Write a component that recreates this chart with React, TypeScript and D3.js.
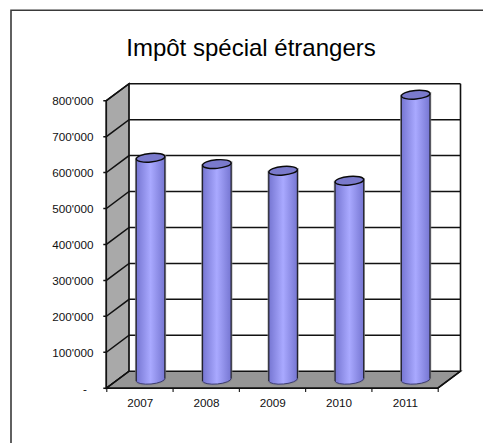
import React from "react";
import * as d3 from "d3";

const title = "Impôt spécial étrangers";
const years = ["2007", "2008", "2009", "2010", "2011"];
const values = [617700, 600000, 581500, 553700, 793000];
const yTicks = [0, 100000, 200000, 300000, 400000, 500000, 600000, 700000, 800000];
const yTickLabels = ["-", "100'000", "200'000", "300'000", "400'000", "500'000", "600'000", "700'000", "800'000"];

const W = 483, H = 443;
const frontLeft = 106.3, frontRight = 437.7;
const frontBottom = 388.2, frontTop = 100.7;
const dx = 22.8, dy = -17;
const barWidth = 28.6;
const ink = "#111";
const font = "'Liberation Sans', Arial, sans-serif";

export default function App() {
  const x = d3.scaleBand<string>().domain(years).range([frontLeft, frontRight]);
  const y = d3.scaleLinear().domain([0, 800000]).range([frontBottom, frontTop]);
  const line = d3.line();
  const backX0 = frontLeft + dx, backX1 = frontRight + dx;
  const floorPts: [number, number][] = [[frontLeft, frontBottom], [frontRight, frontBottom], [backX1, frontBottom + dy], [backX0, frontBottom + dy]];
  const sidePts: [number, number][] = [[frontLeft, frontBottom], [backX0, frontBottom + dy], [backX0, frontTop + dy], [frontLeft, frontTop]];
  const boundaries = [...years.map((c) => x(c)!), frontRight];
  return (
    <svg width={W} height={H} style={{ position: "absolute", left: 0, top: 0 }}>
      <defs>
        <linearGradient id="cyl" x1="0" x2="1" y1="0" y2="0">
          <stop offset="0" stopColor="#7676d2" />
          <stop offset="0.5" stopColor="#a9a9ff" />
          <stop offset="1" stopColor="#7676d2" />
        </linearGradient>
      </defs>
      <rect width={W} height={H} fill="#fff" />
      <path d="M11,443V10.2H483" fill="none" stroke="#3a3a3a" strokeWidth={1.6} />
      <text x={251} y={56} textAnchor="middle" fontFamily={font} fontSize={24} fill="#000">{title}</text>

      <path d={line(sidePts)! + "Z"} fill="#a9a9a9" stroke={ink} strokeWidth={1.4} />
      <path d={line(floorPts)! + "Z"} fill="#969696" stroke={ink} strokeWidth={1.4} />
      <rect x={backX0} y={frontTop + dy} width={backX1 - backX0} height={frontBottom - frontTop} fill="#fff" />
      {yTicks.map((t) => (
        <path key={t} fill="none" stroke={ink} strokeWidth={1.5}
          d={line([[frontLeft - 3, y(t)], [frontLeft, y(t)], [backX0, y(t) + dy], [backX1, y(t) + dy]])!} />
      ))}
      <path d={line([[backX0, frontTop + dy], [backX0, frontBottom + dy]])!} stroke={ink} strokeWidth={1.5} />
      <path d={line([[backX1, frontTop + dy], [backX1, frontBottom + dy], [frontRight, frontBottom], [frontLeft, frontBottom], [frontLeft, frontTop]])!} fill="none" stroke={ink} strokeWidth={1.6} />
      {boundaries.map((b, i) => (
        <path key={i} d={line([[b + 0.5, frontBottom], [b + 0.5, frontBottom + 3.8]])!} stroke={ink} strokeWidth={1.1} />
      ))}
      {yTicks.map((t, i) => (
        <text key={t} x={i === 0 ? 85 : 93.5} y={y(t) + 4.5} textAnchor={i === 0 ? "middle" : "end"} fontFamily={font} fontSize={11.7} fill="#111">{yTickLabels[i]}</text>
      ))}
      {years.map((c) => (
        <text key={c} x={x(c)! + x.bandwidth() / 2 + 0.8} y={407.3} textAnchor="middle" fontFamily={font} fontSize={11.7} fill="#111">{c}</text>
      ))}
      {years.map((c, i) => {
        const cx = x(c)! + x.bandwidth() / 2 + dx / 2 - 0.3;
        const base = y(0) + dy / 2;
        const top = base - (y(0) - y(values[i]));
        const r = barWidth / 2, ry = 4.3;
        const yl = 1.3;
        const body = `M${cx - r},${top + yl}L${cx - r},${base + yl}A${r},${ry} -5 0 0 ${cx + r},${base - yl}L${cx + r},${top - yl}Z`;
        return (
          <g key={c}>
            <path d={body} fill="none" stroke="#8a8a8a" strokeWidth={2.6} opacity={0.8} />
            <path d={body} fill="url(#cyl)" />
            <path d={`M${cx - r},${top + yl}L${cx - r},${base + yl}`} stroke="#22222e" strokeWidth={1.2} />
            <path d={`M${cx + r},${top - yl}L${cx + r},${base - yl}`} stroke="#22222e" strokeWidth={1.2} />
            <path d={`M${cx - r},${base + yl}A${r},${ry} -5 0 0 ${cx + r},${base - yl}`} fill="none" stroke="#3d3d70" strokeWidth={1} />
            <ellipse cx={cx} cy={top} rx={r} ry={ry} transform={`rotate(-5 ${cx} ${top})`} fill="#7a7acc" stroke="#0a0a0a" strokeWidth={1.4} />
          </g>
        );
      })}
    </svg>
  );
}
